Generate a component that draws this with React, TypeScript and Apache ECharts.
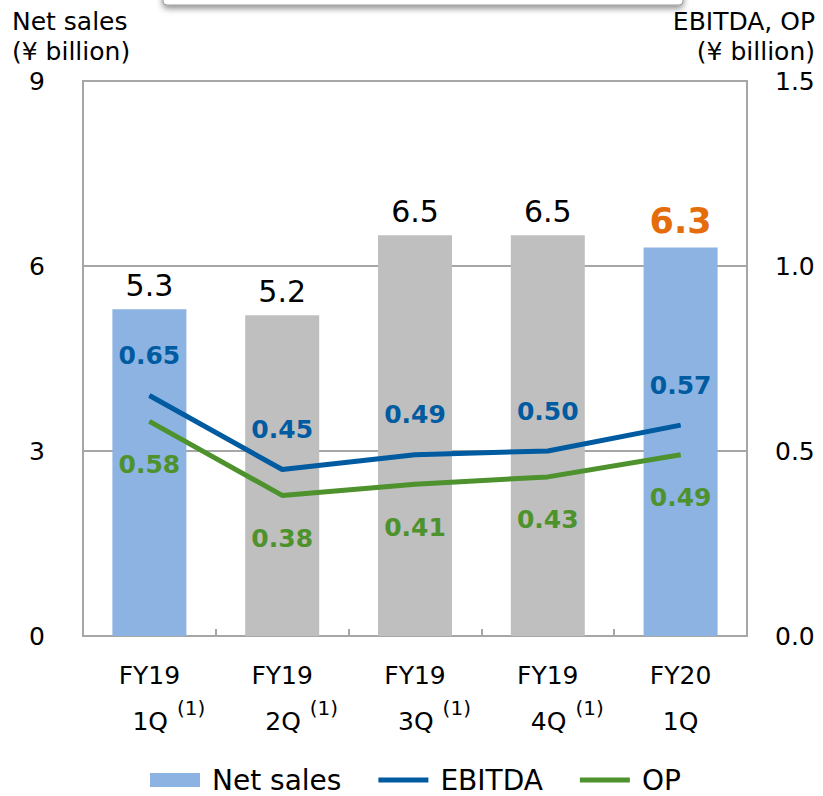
import React, { useEffect, useRef } from "react";
import * as echarts from "echarts";

// Quarter labels: period, quarter, and whether footnote (1) applies
const periods = ["FY19", "FY19", "FY19", "FY19", "FY20"];
const quarters = ["1Q", "2Q", "3Q", "4Q", "1Q"];
const footnoted = [true, true, true, true, false];

// ¥ billion
const netSales = [5.3, 5.2, 6.5, 6.5, 6.3];
const ebitda = [0.65, 0.45, 0.49, 0.5, 0.57];
const op = [0.58, 0.38, 0.41, 0.43, 0.49];

// Net sales bars highlighted in blue (FY19 1Q and the latest quarter)
const highlighted = [true, false, false, false, true];

const leftTicks = { min: 0, max: 9, interval: 3 };
const rightTicks = { min: 0, max: 1.5, interval: 0.5 };

const FONT = "DejaVu Sans";
const BLUE_BAR = "#8DB3E2";
const GREY_BAR = "#BFBFBF";
const EBITDA_COLOR = "#005BA1";
const OP_COLOR = "#4D922D";
const LATEST_COLOR = "#E46C0A";
const FRAME = "#A6A6A6";

// Thick flat stroke used as the legend icon for the line series
const LINE_ICON = "path://M0,0L50,0L50,5L0,5Z";

export default function App() {
  const ref = useRef<HTMLDivElement>(null);

  useEffect(() => {
    if (!ref.current) return;
    const chart = echarts.init(ref.current, undefined, { renderer: "svg" });
    const categories = periods.map((p, i) => `${p}|${quarters[i]}`);
    const last = netSales.length - 1;

    chart.setOption({
      animation: false,
      textStyle: { fontFamily: FONT },
      grid: {
        left: 83,
        right: 76,
        top: 81,
        height: 555,
        show: true,
        borderColor: FRAME,
        borderWidth: 2,
        backgroundColor: "transparent",
      },
      graphic: [
        {
          type: "rect",
          shape: { x: 163, y: -40, width: 520, height: 45, r: 4 },
          style: {
            fill: "#ffffff",
            stroke: "#9a9a9a",
            lineWidth: 1,
            shadowBlur: 6,
            shadowOffsetY: 3,
            shadowColor: "rgba(0,0,0,0.45)",
          },
          z: 10,
        },
        {
          type: "text",
          left: 12,
          top: 6,
          style: {
            text: "Net sales\n(¥ billion)",
            font: `25px "${FONT}"`,
            fill: "#000",
            lineHeight: 30,
            textAlign: "left",
          },
        },
        {
          type: "text",
          right: 8,
          top: 6,
          style: {
            text: "EBITDA, OP\n(¥ billion)",
            font: `25px "${FONT}"`,
            fill: "#000",
            lineHeight: 30,
            textAlign: "right",
          },
        },
      ],
      legend: {
        left: 150,
        top: 766,
        padding: 0,
        itemWidth: 50,
        itemHeight: 14,
        itemGap: 37,
        symbolKeepAspect: true,
        textStyle: {
          fontFamily: FONT,
          fontSize: 28,
          lineHeight: 28,
          color: "#000",
          padding: [0, 0, 0, 7],
        },
        data: [
          { name: "Net sales", icon: "rect" },
          { name: "EBITDA", icon: LINE_ICON },
          { name: "OP", icon: LINE_ICON },
        ],
      },
      xAxis: {
        type: "category",
        data: categories,
        axisLine: { show: true, lineStyle: { color: FRAME, width: 2 } },
        axisTick: {
          show: true,
          inside: true,
          length: 7,
          lineStyle: { color: FRAME, width: 2 },
        },
        axisLabel: {
          margin: 16,
          interval: 0,
          formatter: (value: string, i: number) => {
            const [p, q] = value.split("|");
            const second = footnoted[i]
              ? `{q|${q}}{s|(1)}`
              : `{plain|${q}}`;
            return `{p|${p}}\n${second}`;
          },
          rich: {
            p: { fontFamily: FONT, fontSize: 25, color: "#000", lineHeight: 46 },
            q: {
              fontFamily: FONT,
              fontSize: 25,
              color: "#000",
              lineHeight: 46,
              padding: [0, 0, 0, 39],
            },
            plain: { fontFamily: FONT, fontSize: 25, color: "#000", lineHeight: 46 },
            s: {
              fontFamily: FONT,
              fontSize: 20,
              color: "#000",
              lineHeight: 22,
              verticalAlign: "top",
              padding: [0, 0, 0, 9],
            },
          },
        },
      },
      yAxis: [
        {
          type: "value",
          ...leftTicks,
          axisLine: { show: false },
          axisTick: { show: false },
          splitLine: { show: true, lineStyle: { color: FRAME, width: 2 } },
          axisLabel: {
            margin: 38,
            fontFamily: FONT,
            fontSize: 25,
            color: "#000",
            formatter: (v: number) => String(v),
          },
        },
        {
          type: "value",
          ...rightTicks,
          axisLine: { show: false },
          axisTick: { show: false },
          splitLine: { show: false },
          axisLabel: {
            margin: 28,
            fontFamily: FONT,
            fontSize: 25,
            color: "#000",
            formatter: (v: number) => v.toFixed(1),
          },
        },
      ],
      series: [
        {
          name: "Net sales",
          type: "bar",
          yAxisIndex: 0,
          barWidth: 74,
          itemStyle: { color: BLUE_BAR },
          label: {
            show: true,
            position: "top",
            distance: 9,
            fontFamily: FONT,
            fontSize: 30,
            color: "#000",
            formatter: (p: any) => Number(p.value).toFixed(1),
          },
          data: netSales.map((v, i) => ({
            value: v,
            itemStyle: { color: highlighted[i] ? BLUE_BAR : GREY_BAR },
            label:
              i === last
                ? { fontSize: 35, fontWeight: "bold", color: LATEST_COLOR }
                : undefined,
          })),
          z: 1,
        },
        {
          name: "EBITDA",
          type: "line",
          yAxisIndex: 1,
          data: ebitda,
          symbol: "circle",
          symbolSize: 1,
          showSymbol: true,
          itemStyle: { color: EBITDA_COLOR },
          lineStyle: { color: EBITDA_COLOR, width: 5 },
          label: {
            show: true,
            position: "top",
            distance: 27,
            fontFamily: FONT,
            fontSize: 25,
            fontWeight: "bold",
            color: EBITDA_COLOR,
            formatter: (p: any) => Number(p.value).toFixed(2),
          },
          z: 3,
        },
        {
          name: "OP",
          type: "line",
          yAxisIndex: 1,
          data: op,
          symbol: "circle",
          symbolSize: 1,
          showSymbol: true,
          itemStyle: { color: OP_COLOR },
          lineStyle: { color: OP_COLOR, width: 5 },
          label: {
            show: true,
            position: "bottom",
            distance: 30,
            fontFamily: FONT,
            fontSize: 25,
            fontWeight: "bold",
            color: OP_COLOR,
            formatter: (p: any) => Number(p.value).toFixed(2),
          },
          z: 3,
        },
      ],
    });

    return () => chart.dispose();
  }, []);

  return (
    <div
      ref={ref}
      style={{
        position: "absolute",
        left: 0,
        top: 0,
        width: 823,
        height: 796,
        background: "#fff",
      }}
    />
  );
}
